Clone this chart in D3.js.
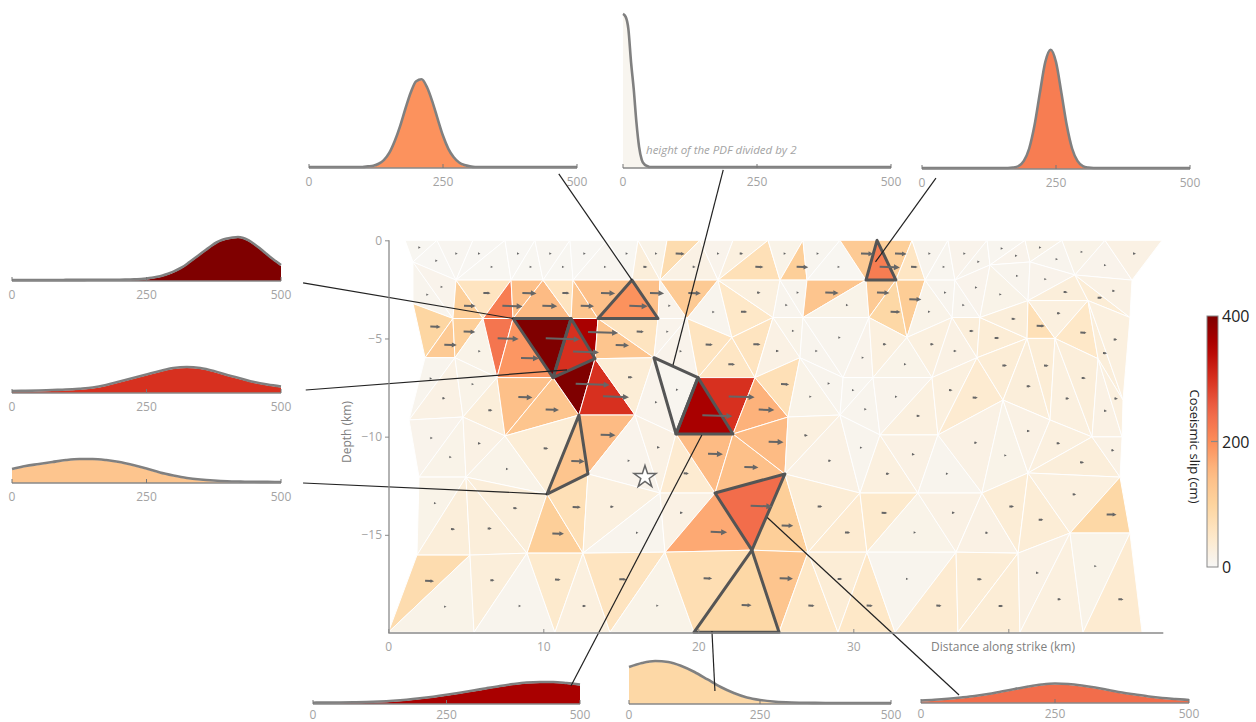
<!DOCTYPE html>
<html>
<head>
<meta charset="utf-8">
<script src="https://cdn.jsdelivr.net/npm/d3@7"></script>
<style>
  body { margin: 0; background: #fff; }
  text { font-family: "Open Sans", sans-serif; }
</style>
</head>
<body>
<svg id="chart" width="1256" height="722"></svg>
<script>
// ---------------- fault mesh: node rows (along-strike km, depth km) ----------------
const rowX = [
  [1.08, 3.14, 5.46, 7.53, 9.46, 11.72, 14.11, 16.11, 17.98, 20.11, 22.24, 24.50, 26.75, 29.14, 31.53, 33.79, 36.11, 38.63, 41.08, 43.46, 46.24, 49.92],
  [1.59, 4.37, 7.92, 9.98, 11.92, 15.72, 17.53, 21.27, 25.27, 27.01, 30.82, 32.75, 34.63, 36.56, 38.82, 41.40, 44.30, 47.98],
  [1.59, 4.17, 6.11, 8.05, 11.79, 13.53, 17.40, 19.27, 22.17, 24.82, 26.75, 31.01, 33.46, 36.37, 38.17, 41.27, 45.14, 47.85],
  [2.37, 4.30, 7.01, 10.63, 13.34, 17.14, 19.98, 23.66, 26.56, 29.34, 31.27, 35.08, 37.98, 41.21, 43.01, 45.79, 47.40],
  [1.34, 4.82, 7.53, 12.30, 15.92, 18.56, 22.24, 25.79, 29.14, 31.72, 35.46, 39.66, 42.69, 45.40, 47.34],
  [1.98, 5.01, 10.24, 12.88, 17.53, 21.08, 25.59, 30.43, 34.17, 38.30, 41.27, 47.21],
  [1.85, 5.27, 8.95, 12.56, 17.85, 23.46, 27.08, 30.88, 36.63, 40.63, 43.98, 47.85],
  [0.00, 5.53, 10.75, 14.30, 19.72, 25.21, 29.01, 32.69, 36.75, 40.75, 44.82, 48.63]
];
const rowZ = [
  [0,0,0,0,0,0,0,0,0,0,0,0,0,0,0,0,0,0,0,0,0,0],
  [1.10, 2.02, 2.02, 2.02, 2.02, 2.02, 2.02, 2.02, 2.02, 2.02, 2.02, 2.02, 2.02, 2.02, 1.25, 1.10, 1.76, 2.02],
  [3.21, 3.97, 3.97, 3.97, 3.97, 3.97, 3.97, 3.97, 4.93, 3.92, 3.92, 3.92, 4.93, 3.92, 3.92, 3.06, 3.06, 3.92],
  [5.96, 5.96, 6.97, 6.97, 6.01, 5.96, 6.97, 6.97, 5.96, 6.97, 6.97, 6.97, 5.96, 4.98, 4.98, 6.01, 8.11],
  [9.12, 8.97, 9.93, 8.87, 8.87, 9.83, 9.83, 8.97, 8.87, 9.88, 9.88, 8.11, 9.12, 9.98, 9.98],
  [12.02, 12.02, 12.88, 11.86, 12.83, 12.83, 11.86, 12.83, 12.83, 12.83, 11.81, 12.02],
  [15.98, 15.98, 15.88, 15.88, 15.83, 15.73, 15.83, 15.83, 15.83, 15.88, 14.86, 14.86],
  [19.9, 19.9, 19.9, 19.9, 19.9, 19.9, 19.9, 19.9, 19.9, 19.9, 19.9, 19.9]
];

// coseismic slip (cm) of each triangle, strip by strip, in left-to-right order
const slipAB = [5,4,6,4,5,4,5,6,5,4,6,5,30,15,80,20,12,25,70,15,110,8,5,120,220,110,55,10,8,12,10,8,12,15,10,15,12,20];
const slipBC = [10,12,110,60,220,140,150,60,130,140,195,140,12,120,10,50,25,10,10,130,15,120,90,115,15,10,10,12,15,10,12,30,35,20];
const slipCD = [95,120,110,15,230,190,420,300,360,130,60,12,12,60,55,60,20,15,10,10,12,25,15,25,20,30,35,30,70,25,50,30,25];
const slipDE = [10,20,15,30,140,130,420,300,35,12,8,360,300,160,70,15,10,8,10,12,25,25,40,35,30,35,25,30,20,25];
const slipEF = [12,15,20,15,35,130,150,12,20,40,150,140,150,25,20,10,25,20,10,20,15,20,25,30,20];
const slipFG = [15,30,30,30,110,70,25,10,20,170,240,110,35,40,45,15,20,20,35,35,25,90];
const slipGH = [80,15,30,10,45,25,60,15,75,90,130,50,35,50,10,40,35,35,20,25,15,40];
const slipStrips = [slipAB, slipBC, slipCD, slipDE, slipEF, slipFG, slipGH];

// slip direction (degrees below the along-strike direction)
const rakeDeg = 2;

// epicentre
const epicentre = [16.56, 12.02];

// ---------------- posterior PDFs of slip for selected patches (1e-3 per cm) ----------------
const pdfTL = [0,0,0,0,0,0,0,0,0,0,0,0.1,0.2,0.5,1.1,2.2,4.0,6.3,9.0,11.5,13.2,13.5,12.3,10.1,7.4,4.8,2.8,1.5,0.7,0.3,0.1,0];            // step 10
const pdfTM = [47.1,46.2,42.5,32.3,24.0,13.8,6.2,2.2,0.8,0.3,0];                                                                          // step 5
const pdfTR = [0,0,0,0,0,0,0,0,0,0,0,0,0,0,0,0,0,0.07,0.3,1.1,3.0,6.6,11.6,16.3,18.2,16.3,11.6,6.6,3.0,1.1,0.3,0.07,0];                // step 10
const pdfL1 = [0,0,0,0,0,0,0,0,0,0,0.02,0.02,0.02,0.02,0.03,0.03,0.03,0.04,0.04,0.05,0.05,0.06,0.08,0.11,0.15,0.23,0.34,0.49,0.69,0.95,
               1.28,1.69,2.15,2.77,3.38,4.0,4.62,5.23,5.77,6.15,6.38,6.54,6.62,6.46,6.08,5.54,4.92,4.23,3.54,2.92,2.31];                // step 10
const pdfL2 = [0.15,0.18,0.23,0.31,0.38,0.51,0.69,1.08,1.62,2.15,2.69,3.23,3.69,3.85,3.69,3.23,2.62,2.08,1.54,1.15,0.85];               // step 25
const pdfL3 = [2.0,2.46,2.77,3.08,3.38,3.54,3.54,3.38,3.08,2.62,2.08,1.46,1.0,0.62,0.38,0.22,0.11,0.06,0.03,0.02,0];                     // step 25
const pdfBL = [0.05,0.06,0.08,0.11,0.15,0.23,0.35,0.51,0.72,0.97,1.26,1.58,1.92,2.28,2.62,2.92,3.15,3.23,3.23,3.08,2.85];                // step 25
const pdfBM = [5.54,6.15,6.46,6.31,5.69,4.77,3.62,2.46,1.54,0.85,0.46,0.23,0.11,0.05,0.02,0];                                           // step 25
const pdfBR = [0.23,0.34,0.49,0.69,0.92,1.23,1.62,2.0,2.38,2.69,2.85,2.77,2.54,2.23,1.85,1.46,1.15,0.85,0.62,0.46,0.31];                 // step 25

const histTicks = [0, 250, 500];
const xTicks = [0, 10, 20, 30, 40];
const yTicks = [0, 5, 10, 15];
const cbarTicks = [0, 200, 400];

// ---------------- scales ----------------
const svg = d3.select("#chart");
const x = d3.scaleLinear().domain([0, 50]).range([388.3, 1163.3]);
const y = d3.scaleLinear().domain([0, 20]).range([240.3, 634.3]);   // depth, positive down
const colorStops = ["#f7f7f6", "#fee8c8", "#fdd49e", "#fdbb84", "#fc8d59", "#ef6548", "#d7301f", "#b30000", "#7f0000"];
const color = d3.scaleSequential(d3.piecewise(d3.interpolateRgb, colorStops)).domain([0, 400]).clamp(true);
// arrow length (px) for a given slip
const arrowLen = s => 34 * Math.pow(s / 420, 0.8);

// ---------------- build the triangulated mesh ----------------
const nodes = [];
const rowIdx = rowX.map((xs, r) => xs.map((xv, i) => { nodes.push({ x: xv, z: rowZ[r][i] }); return nodes.length - 1; }));
const tris = [];
for (let r = 0; r < rowIdx.length - 1; r++) {
  const top = rowIdx[r], bot = rowIdx[r + 1];
  let a = 0, b = 0, k = 0;
  while (a < top.length - 1 || b < bot.length - 1) {
    let v;
    if (a === top.length - 1 || (b < bot.length - 1 && nodes[bot[b + 1]].x <= nodes[top[a + 1]].x)) {
      v = [top[a], bot[b], bot[b + 1]]; b++;
    } else {
      v = [top[a], top[a + 1], bot[b]]; a++;
    }
    const pts = v.map(i => [x(nodes[i].x), y(nodes[i].z)]);
    tris.push({ strip: r, k, pts, slip: slipStrips[r][k],
      cx: d3.mean(pts, p => p[0]), cy: d3.mean(pts, p => p[1]) });
    k++;
  }
}
const triAt = (s, k) => tris.find(t => t.strip === s && t.k === k);

const poly = pts => "M" + pts.map(p => p.join(",")).join("L") + "Z";

const gMesh = svg.append("g");
gMesh.selectAll("path").data(tris).join("path")
  .attr("d", d => poly(d.pts))
  .attr("fill", d => color(d.slip))
  .attr("stroke", "#ffffff").attr("stroke-width", 1).attr("stroke-linejoin", "round");

// ---------------- histogram panels ----------------
const panels = [
  { key: "TL", pdf: pdfTL, step: 10, x0: 309, x1: 577, y0: 168, k: 1,   tri: [1, 10], from: [466, -0.9], to: [15.72, 2.02] },
  { key: "TM", pdf: pdfTM, step: 5,  x0: 623, x1: 891, y0: 168, k: 0.5, tri: [3, 10], from: [187, -0.6], to: [18.37, 6.33] },
  { key: "TR", pdf: pdfTR, step: 10, x0: 922, x1: 1190, y0: 169, k: 1,  tri: [0, 24], from: [26, -1.4],  to: [31.43, 1.10] },
  { key: "L1", pdf: pdfL1, step: 10, x0: 12,  x1: 281, y0: 281, k: 1,   tri: [2, 6],  from: [541, -0.3], to: [8.05, 3.97] },
  { key: "L2", pdf: pdfL2, step: 25, x0: 12,  x1: 281, y0: 393, k: 1,   tri: [2, 7],  from: [546, 0.46], to: [11.53, 6.58] },
  { key: "L3", pdf: pdfL3, step: 25, x0: 12,  x1: 281, y0: 483, k: 1,   tri: [4, 5],  from: [541, 0],    to: [10.24, 12.88] },
  { key: "BL", pdf: pdfBL, step: 25, x0: 313, x1: 580, y0: 704, k: 1,   tri: [3, 11], from: [483, 2.77], to: [20.23, 9.88] },
  { key: "BM", pdf: pdfBM, step: 25, x0: 629, x1: 891, y0: 704, k: 1,   tri: [6, 9],  from: [164, 2.0],  to: [20.88, 19.83] },
  { key: "BR", pdf: pdfBR, step: 25, x0: 921, x1: 1189, y0: 703, k: 1,  tri: [5, 10], from: [71, 1.23],  to: [24.45, 14.07] }
];
const pdfPx = d3.scaleLinear().domain([0, 20]).range([0, 130]);

// outlines of the selected patches
const gOut = svg.append("g");
panels.forEach(p => {
  const t = triAt(p.tri[0], p.tri[1]);
  gOut.append("path").attr("d", poly(t.pts)).attr("fill", "none")
    .attr("stroke", "#555").attr("stroke-width", 3).attr("stroke-linejoin", "round");
});

// slip vectors at triangle centroids
const gArr = svg.append("g").attr("fill", "#666").attr("stroke", "#666");
tris.forEach(t => {
  const L = arrowLen(t.slip);
  const hl = Math.min(6, Math.max(2.4, L * 0.4)), hw = hl * 0.5;
  const len = Math.max(L, hl);
  const g = gArr.append("g").attr("transform", `translate(${t.cx},${t.cy}) rotate(${rakeDeg})`);
  if (len - hl > 0.5) g.append("line").attr("x1", 0).attr("y1", 0).attr("x2", len - hl + 0.5).attr("y2", 0).attr("stroke-width", 2);
  g.append("path").attr("d", `M${len},0L${len - hl},${-hw}L${len - hl},${hw}Z`).attr("stroke", "none");
});

// epicentre star
const star = d3.symbol().type(d3.symbolStar).size(150);
svg.append("path").attr("d", star())
  .attr("transform", `translate(${x(epicentre[0])},${y(epicentre[1])})`)
  .attr("fill", "#fff").attr("stroke", "#666").attr("stroke-width", 1.5);

// histograms
const gH = svg.append("g");
panels.forEach(p => {
  const t = triAt(p.tri[0], p.tri[1]);
  const hx = d3.scaleLinear().domain([0, 500]).range([p.x0, p.x1]);
  const hy = v => p.y0 - pdfPx(v) * p.k;
  p.hx = hx; p.hy = hy;
  const pts = p.pdf.map((v, i) => [i * p.step, v]);
  if (pts[pts.length - 1][0] < 500) pts.push([500, 0]);
  const area = d3.area().x(d => hx(d[0])).y0(p.y0).y1(d => hy(d[1])).curve(d3.curveMonotoneX);
  const line = d3.line().x(d => hx(d[0])).y(d => hy(d[1]) - 1).curve(d3.curveMonotoneX);
  gH.append("path").attr("d", area(pts)).attr("fill", color(t.slip));
  gH.append("path").attr("d", line(pts)).attr("fill", "none").attr("stroke", "#808080").attr("stroke-width", 2.6)
    .attr("stroke-linejoin", "round");
  gH.append("line").attr("x1", p.x0).attr("x2", p.x1).attr("y1", p.y0).attr("y2", p.y0)
    .attr("stroke", "#888").attr("stroke-width", 1.5);
  const labelY = p.y0 > 600 ? p.y0 + 15 : p.y0 + 18;
  histTicks.forEach(v => {
    gH.append("line").attr("x1", hx(v)).attr("x2", hx(v)).attr("y1", p.y0).attr("y2", p.y0 - 4)
      .attr("stroke", "#777").attr("stroke-width", 1);
    gH.append("text").attr("x", hx(v)).attr("y", labelY).attr("text-anchor", "middle")
      .attr("font-size", 12).attr("fill", "#a3a3a3").text(v);
  });
});
gH.append("text").attr("x", 646).attr("y", 154).attr("font-size", 11.5).attr("font-style", "italic")
  .attr("fill", "#a3a3a3").text("height of the PDF divided by 2");

// connectors from patches to their PDFs
const gLink = svg.append("g");
panels.forEach(p => {
  gLink.append("line")
    .attr("x1", p.hx(p.from[0])).attr("y1", p.hy(p.from[1]))
    .attr("x2", x(p.to[0])).attr("y2", y(p.to[1]))
    .attr("stroke", "#222").attr("stroke-width", 1.2);
});

// ---------------- axes ----------------
const gx = svg.append("g").attr("transform", `translate(0,${633})`)
  .call(d3.axisBottom(x).tickValues(xTicks).tickSize(-4).tickSizeOuter(0).tickPadding(9)
    .tickFormat(d => d === 40 ? "" : d));
const gy = svg.append("g").attr("transform", `translate(${389},0)`)
  .call(d3.axisLeft(y.copy().range([240.3, 633])).tickValues(yTicks).tickSize(4).tickSizeOuter(0).tickPadding(3)
    .tickFormat(d => d === 0 ? "0" : "\u2212" + d));
[gx, gy].forEach(g => {
  g.select(".domain").attr("stroke", "#8a8a8a").attr("stroke-width", 1.3);
  g.selectAll(".tick line").attr("stroke", "#8a8a8a");
  g.selectAll(".tick text").attr("fill", "#a3a3a3").attr("font-size", 12).attr("font-family", "Open Sans");
});
gy.select(".domain").attr("d", "M0,240.3V633");
gx.select(".domain").attr("d", `M${x(0)},0H${x(50)}`);

svg.append("text").attr("transform", "translate(351,432) rotate(-90)").attr("text-anchor", "middle")
  .attr("font-size", 12).attr("fill", "#808080").text("Depth (km)");
svg.append("text").attr("x", 1003).attr("y", 651).attr("text-anchor", "middle")
  .attr("font-size", 12).attr("fill", "#808080").text("Distance along strike (km)");

// ---------------- colour bar ----------------
const cb = { x: 1207, w: 11, yTop: 316, yBot: 567 };
const cby = d3.scaleLinear().domain([0, 400]).range([cb.yBot, cb.yTop]);
const grad = svg.append("defs").append("linearGradient").attr("id", "cbar")
  .attr("x1", 0).attr("y1", 1).attr("x2", 0).attr("y2", 0);
d3.range(0, 1.0001, 0.05).forEach(f => grad.append("stop").attr("offset", f).attr("stop-color", color(f * 400)));
svg.append("rect").attr("x", cb.x).attr("y", cb.yTop).attr("width", cb.w).attr("height", cb.yBot - cb.yTop)
  .attr("fill", "url(#cbar)").attr("stroke", "#888").attr("stroke-width", 1);
cbarTicks.forEach(v => {
  if (v > 0 && v < 400) svg.append("line").attr("x1", cb.x + 4).attr("x2", cb.x + cb.w).attr("y1", cby(v)).attr("y2", cby(v))
    .attr("stroke", "#888").attr("stroke-width", 1.2);
  svg.append("text").attr("x", cb.x + cb.w + 4).attr("y", cby(v) + 6).attr("font-size", 16)
    .attr("fill", "#222").text(v);
});
svg.append("text").attr("transform", `translate(1190,${(cb.yTop + cb.yBot) / 2 + 5}) rotate(90)`)
  .attr("text-anchor", "middle").attr("font-size", 13).attr("fill", "#222").text("Coseismic slip (cm)");
</script>
</body>
</html>
